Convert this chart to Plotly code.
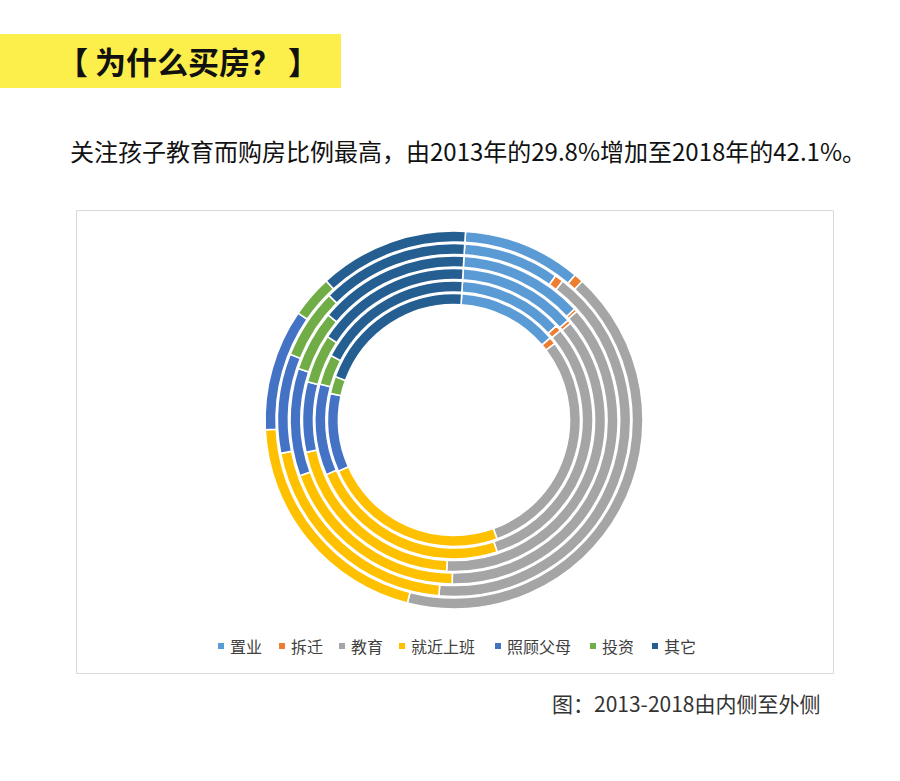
import plotly.graph_objects as go

W, H = 900, 781

categories = ["置业", "拆迁", "教育", "就近上班", "照顾父母", "投资", "其它"]
colors = ["#5B9BD5", "#ED7D31", "#A5A5A5", "#FFC000", "#4472C4", "#70AD47", "#255E91"]
years = ["2013", "2014", "2015", "2016", "2017", "2018"]

# share (%) per year, category order as above; inner ring = 2013, outer ring = 2018
share_2013 = [12.8, 0.9, 29.8, 23.9, 10.0, 2.2, 20.4]
share_2014 = [12.2, 0.7, 31.1, 23.6, 10.6, 3.5, 18.3]
share_2015 = [12.6, 0.4, 36.8, 20.8, 7.5, 5.2, 16.7]
share_2016 = [12.2, 0.3, 36.7, 19.3, 10.6, 6.0, 14.9]
share_2017 = [8.8, 0.8, 40.8, 20.6, 9.1, 6.4, 13.5]
share_2018 = [10.1, 0.8, 42.1, 20.2, 10.4, 3.6, 12.8]
shares = [share_2013, share_2014, share_2015, share_2016, share_2017, share_2018]

title_text = "【 为什么买房？ 】"
subtitle_text = "关注孩子教育而购房比例最高，由2013年的29.8%增加至2018年的42.1%。"
caption_text = "图：2013-2018由内侧至外侧"

FONT = "Noto Sans CJK SC"


def px_x(x):
    return x / W


def px_y(y):
    return 1 - y / H


cx, cy = 454, 420
fig = go.Figure()
for i, (yr, vals) in enumerate(zip(years, shares)):
    r_out = 126.5 + 12.5 * i
    band = 11.0
    fig.add_trace(go.Pie(
        labels=categories,
        values=vals,
        name=yr,
        sort=False,
        direction="clockwise",
        rotation=3.5,
        hole=(r_out - band) / r_out,
        marker=dict(colors=colors, line=dict(color="white", width=1.6)),
        textinfo="none",
        hoverinfo="label+percent+name",
        showlegend=False,
        domain=dict(x=[px_x(cx - r_out), px_x(cx + r_out)],
                    y=[px_y(cy + r_out), px_y(cy - r_out)]),
    ))

shapes = [
    # yellow title band
    dict(type="rect", xref="paper", yref="paper",
         x0=0, x1=px_x(341), y0=px_y(88), y1=px_y(34),
         fillcolor="#FCEF4C", line=dict(width=0), layer="below"),
    # chart frame
    dict(type="rect", xref="paper", yref="paper",
         x0=px_x(76.5), x1=px_x(833.5), y0=px_y(673.5), y1=px_y(210.5),
         fillcolor="rgba(0,0,0,0)", line=dict(color="#D9D9D9", width=1), layer="below"),
]

annotations = [
    dict(text="<b>" + title_text + "</b>", xref="paper", yref="paper",
         x=px_x(188), y=px_y(61), xanchor="center", yanchor="middle",
         showarrow=False, font=dict(family=FONT, size=31, color="#111111")),
    dict(text=subtitle_text, xref="paper", yref="paper",
         x=px_x(68), y=px_y(150), xanchor="left", yanchor="middle",
         showarrow=False, font=dict(family=FONT, size=24, color="#111111")),
    dict(text=caption_text, xref="paper", yref="paper",
         x=px_x(823), y=px_y(703), xanchor="right", yanchor="middle",
         showarrow=False, font=dict(family=FONT, size=21, color="#333333")),
]

# legend (manual, compact like the original)
legend_x = [221, 282, 342, 402, 498, 593, 655]
legend_y = 646
for lx, cat, col in zip(legend_x, categories, colors):
    shapes.append(dict(type="rect", xref="paper", yref="paper",
                       x0=px_x(lx - 3), x1=px_x(lx + 3),
                       y0=px_y(legend_y + 3), y1=px_y(legend_y - 3),
                       fillcolor=col, line=dict(width=0)))
    annotations.append(dict(text=cat, xref="paper", yref="paper",
                            x=px_x(lx + 7), y=px_y(legend_y), xanchor="left", yanchor="middle",
                            showarrow=False, font=dict(family=FONT, size=16, color="#404040")))

fig.update_layout(
    width=W, height=H,
    margin=dict(l=0, r=0, t=0, b=0),
    paper_bgcolor="white",
    plot_bgcolor="white",
    shapes=shapes,
    annotations=annotations,
    showlegend=False,
)

fig.write_html("out.html")
